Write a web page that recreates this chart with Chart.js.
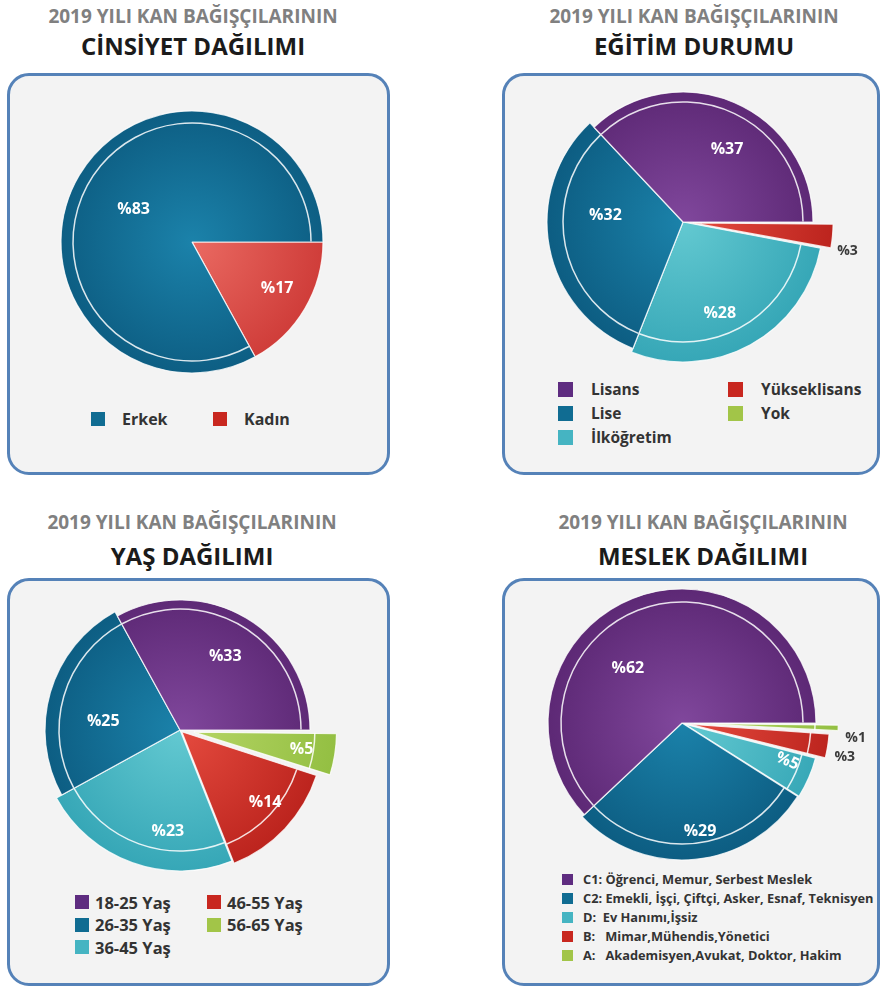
<!DOCTYPE html>
<html><head><meta charset="utf-8">
<script src="https://cdn.jsdelivr.net/npm/chart.js@4.4.1/dist/chart.umd.min.js"></script>
<style>
html,body{margin:0;padding:0;background:#fff;}
body{width:885px;height:990px;position:relative;overflow:hidden;font-family:'Open Sans',sans-serif;}
.box{position:absolute;border:3px solid #5582b8;border-radius:22px;background:#f3f3f3;box-sizing:border-box;}
.t1{position:absolute;font-weight:700;font-size:19px;line-height:19px;color:#808080;white-space:nowrap;transform:translateX(-50%);}
.t2{position:absolute;font-weight:700;font-size:24px;line-height:24px;color:#1b1b1b;white-space:nowrap;transform:translateX(-50%);}
canvas{position:absolute;}
.lg{position:absolute;display:flex;align-items:center;font-weight:700;color:#333;white-space:pre;}
.lg i{display:block;flex:none;}
</style></head><body>
<script>
// ---------- DATA ----------
const titleTop = '2019 YILI KAN BAĞIŞÇILARININ';
const panelTitles = ['CİNSİYET DAĞILIMI', 'EĞİTİM DURUMU', 'YAŞ DAĞILIMI', 'MESLEK DAĞILIMI'];

const genderLabels = ['Erkek', 'Kadın'];
const genderValues = [83, 17];

const eduLabels = ['Lisans', 'Lise', 'İlköğretim', 'Yükseklisans', 'Yok'];
const eduValues = [37, 32, 28, 3, 0];

const ageLabels = ['18-25 Yaş', '26-35 Yaş', '36-45 Yaş', '46-55 Yaş', '56-65 Yaş'];
const ageValues = [33, 25, 23, 14, 5];

const jobLabels = ['C1: Öğrenci, Memur, Serbest Meslek', 'C2: Emekli, İşçi, Çiftçi, Asker, Esnaf, Teknisyen', 'D:  Ev Hanımı,İşsiz', 'B:   Mimar,Mühendis,Yönetici', 'A:   Akademisyen,Avukat, Doktor, Hakim'];
const jobValues = [62, 29, 5, 3, 1];

// ---------- STYLE ----------
const COLORS = {
  purple: ['#80479c', '#5a2672', '#5e2c80'],
  blue:   ['#1b82aa', '#0c5b80', '#106c92'],
  cyan:   ['#63c9d1', '#35a6b6', '#45b4c2'],
  red:    ['#e44a3e', '#bb231d', '#c8271f'],
  kadin:  ['#ea6a62', '#cd3936', '#c8271f'],
  green:  ['#b4d463', '#93bf42', '#a2c548']
};

const panels = [
  {labels: genderLabels, values: genderValues, title: panelTitles[0],
   box: [7, 73, 383, 402], tx: 193, t1y: 7, t2y: 34, c: [192, 242], base: 131,
   col: ['blue', 'kadin'], off: [0, 0], grow: [0, 0], ring: [1, 0],
   frac: [0.51, 0.74], nudge: [-1.5, -2], outside: [0, 0], rot: [0, 0],
   lg: {x: [91, 213], rows: 1, y0: 419, rh: 24, sq: 14, gap: 17, fs: 16}},
  {labels: eduLabels, values: eduValues, title: panelTitles[1],
   box: [502, 73, 378, 402], tx: 694, t1y: 7, t2y: 34, c: [683, 222], base: 132,
   col: ['purple', 'blue', 'cyan', 'red', 'green'], off: [0, 0, 0, 40, 0], grow: [-2, 4, 8, 0, 0], ring: [1, 1, 1, 0, 0],
   frac: [0.64, 0.59, 0.75, 1.19, 0], nudge: [8, 16, 7, 5, 0], outside: [0, 0, 0, 1, 0], rot: [0, 0, 0, 0, 0],
   lg: {x: [558, 728], rows: 3, y0: 389, rh: 24, sq: 15, gap: 18, fs: 15.5}},
  {labels: ageLabels, values: ageValues, title: panelTitles[2],
   box: [7, 578, 383, 408], tx: 192, t1y: 513, t2y: 544, c: [180, 730], base: 133,
   col: ['purple', 'blue', 'cyan', 'red', 'green'], off: [0, 0, 0, 10, 56], grow: [-3, 2, 8, 8, 0], ring: [1, 1, 1, 1, 1],
   frac: [0.65, 0.58, 0.77, 0.82, 0.82], nudge: [1, -10, -13, -3, 0], outside: [0, 0, 0, 0, 0], rot: [0, 0, 0, 0, 0],
   lg: {x: [75, 207], rows: 3, y0: 902, rh: 22.5, sq: 14, gap: 6, fs: 16.5}},
  {labels: jobLabels, values: jobValues, title: panelTitles[3],
   box: [502, 578, 378, 408], tx: 703, t1y: 513, t2y: 544, c: [682, 723], base: 133,
   col: ['purple', 'blue', 'cyan', 'red', 'green'], off: [0, 0, 12, 32, 48], grow: [1, 4, 0, 0, 0], ring: [1, 1, 1, 1, 1],
   frac: [0.58, 0.83, 0.82, 1.19, 1.22], nudge: [-23, -4, -3.6, 3, 3.4], outside: [0, 0, 0, 1, 1], rot: [0, 0, 1, 0, 0],
   lg: {x: [562], rows: 5, y0: 879, rh: 19, sq: 11, gap: 10, fs: 12.8}}
];

const CW = 380, CH = 340;

function el(tag, cls, css, txt) {
  const e = document.createElement(tag);
  if (cls) e.className = cls;
  Object.assign(e.style, css || {});
  if (txt != null) e.textContent = txt;
  document.body.appendChild(e);
  return e;
}

function makeDecor(p, order) {
  return {
    id: 'decor',
    afterDatasetUpdate(chart) {
      const meta = chart.getDatasetMeta(0);
      meta.data.forEach((a, j) => { a.outerRadius = p.base + p.grow[order[j]]; });
    },
    afterDatasetsDraw(chart) {
      const ctx = chart.ctx;
      const meta = chart.getDatasetMeta(0);
      meta.data.forEach((a, j) => {
        const i = order[j];
        const v = p.values[i];
        if (!v) return;
        const sh = (p.off[i] || 0) / 4;
        const mid = (a.startAngle + a.endAngle) / 2;
        const cx = a.x + Math.cos(mid) * sh, cy = a.y + Math.sin(mid) * sh;
        if (p.ring[i]) {
          ctx.save();
          ctx.beginPath();
          ctx.arc(cx, cy, p.base - 12, a.startAngle + 0.004, a.endAngle - 0.004);
          ctx.strokeStyle = 'rgba(255,255,255,0.85)';
          ctx.lineWidth = 1.5;
          ctx.stroke();
          ctx.restore();
        }
        const ang = mid + p.nudge[i] * Math.PI / 180;
        const r = p.base * p.frac[i];
        const x = cx + Math.cos(ang) * r, y = cy + Math.sin(ang) * r;
        ctx.save();
        ctx.translate(x, y);
        if (p.rot[i]) ctx.rotate(mid);
        ctx.font = p.outside[i] ? '700 14px "Open Sans"' : '700 16px "Open Sans"';
        ctx.fillStyle = p.outside[i] ? '#3a3a3a' : '#ffffff';
        ctx.textAlign = 'center';
        ctx.textBaseline = 'middle';
        ctx.fillText('%' + v, 0, 0);
        ctx.restore();
      });
    }
  };
}

panels.forEach(p => {
  // box
  el('div', 'box', {left: p.box[0] + 'px', top: p.box[1] + 'px', width: p.box[2] + 'px', height: p.box[3] + 'px'});
  // titles
  el('div', 't1', {left: p.tx + 'px', top: p.t1y + 'px'}, titleTop);
  el('div', 't2', {left: p.tx + 'px', top: p.t2y + 'px'}, p.title);
  // legend
  p.labels.forEach((lab, i) => {
    const colI = Math.floor(i / p.lg.rows), rowI = i % p.lg.rows;
    const d = el('div', 'lg', {left: p.lg.x[colI] + 'px', top: (p.lg.y0 + rowI * p.lg.rh - p.lg.rh / 2) + 'px',
      height: p.lg.rh + 'px', fontSize: p.lg.fs + 'px', gap: p.lg.gap + 'px'});
    const sq = document.createElement('i');
    Object.assign(sq.style, {width: p.lg.sq + 'px', height: p.lg.sq + 'px', background: COLORS[p.col[i]][2]});
    d.appendChild(sq);
    const s = document.createElement('span');
    s.textContent = lab;
    d.appendChild(s);
  });
  // chart
  const cv = el('canvas', null, {left: (p.c[0] - CW / 2) + 'px', top: (p.c[1] - CH / 2) + 'px'});
  cv.width = CW; cv.height = CH;
  const order = p.values.map((_, i) => i).reverse();
  new Chart(cv, {
    type: 'pie',
    data: {
      labels: order.map(i => p.labels[i]),
      datasets: [{
        data: order.map(i => p.values[i]),
        offset: order.map(i => p.off[i]),
        borderColor: 'rgba(255,255,255,0.8)',
        borderWidth: 1.2,
        backgroundColor: sc => {
          const k = COLORS[p.col[order[sc.dataIndex]]];
          const ca = sc.chart.chartArea;
          if (!ca) return k[1];
          const cx = (ca.left + ca.right) / 2, cy = (ca.top + ca.bottom) / 2;
          const g = sc.chart.ctx.createRadialGradient(cx, cy, 0, cx, cy, p.base + 12);
          g.addColorStop(0, k[0]);
          g.addColorStop(1, k[1]);
          return g;
        }
      }]
    },
    options: {
      responsive: false,
      animation: false,
      events: [],
      radius: p.base,
      rotation: 90,
      layout: {padding: 0},
      plugins: {legend: {display: false}, tooltip: {enabled: false}}
    },
    plugins: [makeDecor(p, order)]
  });
});
</script>
</body></html>
